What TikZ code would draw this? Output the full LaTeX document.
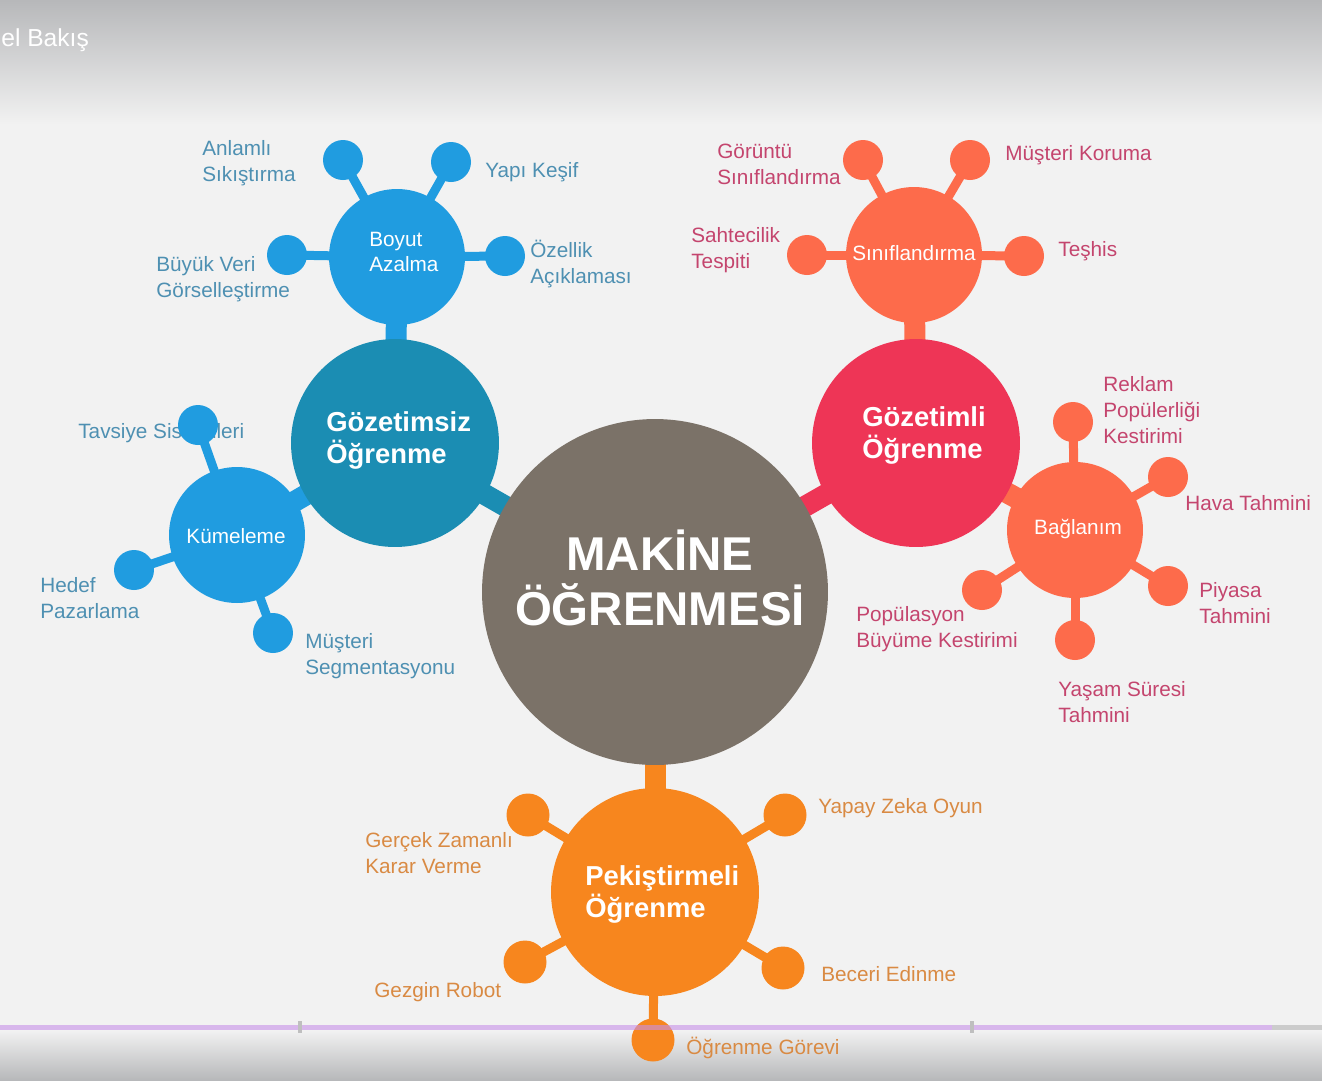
\documentclass[tikz,border=0pt]{standalone}
\usepackage{fontspec}
\setmainfont{Liberation Sans}

\pgfdeclarelayer{page}
\pgfdeclarelayer{stems}
\pgfdeclarelayer{over}
\pgfsetlayers{page,stems,main,over}

\definecolor{mainbrown}{HTML}{7B7268}
\definecolor{unsupteal}{HTML}{1B8DB3}
\definecolor{unsupblue}{HTML}{209CE0}
\definecolor{supred}{HTML}{EE3556}
\definecolor{supcoral}{HTML}{FD6B4B}
\definecolor{reinforange}{HTML}{F7861E}
\definecolor{lblblue}{HTML}{4E90B2}
\definecolor{lblpink}{HTML}{C4456E}
\definecolor{lblorange}{HTML}{D98A43}
\definecolor{pagebg}{HTML}{F2F2F2}
\definecolor{bargray}{HTML}{B7B8BA}
\definecolor{progress}{HTML}{C890E8}

\tikzset{
  bigball/.style={circle, fill=#1, minimum size=4.16cm, inner sep=0pt},
  midball/.style={circle, fill=#1, minimum size=2.72cm, inner sep=0pt},
  leaf/.style={circle, fill=#1, minimum size=0.8cm, inner sep=0pt},
  twig/.style={draw=#1, line width=0.18cm},
  limb/.style={draw=#1, line width=0.42cm},
  lbl/.style={anchor=west, inner sep=0pt, align=left, text=#1, font=\fontsize{11.8}{14.7}\selectfont},
  hubtxt/.style={anchor=west, text=white, inner sep=0pt, align=left, font=\bfseries\fontsize{15.6}{18.2}\selectfont},
  midtxt/.style={text=white, inner sep=0pt, align=left, font=\fontsize{11.8}{14.2}\selectfont},
}

\begin{document}
\begin{tikzpicture}[x=0.02cm, y=-0.02cm]
  \useasboundingbox (0,0) rectangle (1322,1080);

  % page, top and bottom bars
  \begin{pgfonlayer}{page}
    \fill[pagebg] (0,0) rectangle (1322,1080);
    \shade[top color=bargray, bottom color=pagebg] (0,0) rectangle (1322,125);
    \shade[top color=pagebg, bottom color=bargray] (0,1030) rectangle (1322,1080);
  \end{pgfonlayer}
  \node[anchor=west, inner sep=0pt, text=white, font=\fontsize{14}{16}\selectfont] (title) at (1,40) {el Bakış};

  % hubs
  \node[circle, fill=mainbrown, minimum size=6.92cm, inner sep=0pt] (ml) at (655,592) {};
  \node[bigball=unsupteal] (unsup) at (395,443) {};
  \node[bigball=supred] (sup) at (916,443) {};
  \node[bigball=reinforange] (reinf) at (655,892) {};
  \node[midball=unsupblue] (dimred) at (397,257) {};
  \node[midball=unsupblue] (clust) at (237,535) {};
  \node[midball=supcoral] (classif) at (914,255) {};
  \node[midball=supcoral] (regr) at (1075,530) {};

  \node[text=white, align=center, inner sep=0pt, font=\bfseries\fontsize{27}{31}\selectfont] (mltxt) at (660,578) {MAKİNE\\ÖĞRENMESİ};
  \node[hubtxt] (unsuptxt) at (326,440) {Gözetimsiz\\Öğrenme};
  \node[hubtxt] (suptxt) at (862,435) {Gözetimli\\Öğrenme};
  \node[hubtxt] (reinftxt) at (585,894) {Pekiştirmeli\\Öğrenme};
  \node[midtxt, anchor=west] (dimredtxt) at (369,252) {Boyut\\Azalma};
  \node[midtxt] (clusttxt) at (236,536) {Kümeleme};
  \node[midtxt] (classiftxt) at (914,253) {Sınıflandırma};
  \node[midtxt] (regrtxt) at (1078,529) {Bağlanım};

  % label under its leaf
  \node[lbl=lblblue] (l-tav) at (78,433) {Tavsiye Sistemleri};

  % leaves
  \foreach \n/\x/\y in {dr1/343/160, dr2/451/162, dr3/287/255, dr4/505/256}
    \node[leaf=unsupblue] (\n) at (\x,\y) {};
  \foreach \n/\x/\y in {cl1/198/425, cl2/134/570, cl3/273/633}
    \node[leaf=unsupblue] (\n) at (\x,\y) {};
  \foreach \n/\x/\y in {cf1/863/160, cf2/970/160, cf3/807/255, cf4/1024/256}
    \node[leaf=supcoral] (\n) at (\x,\y) {};
  \foreach \n/\x/\y in {rg1/1073/422, rg2/1168/477, rg3/1168/586, rg4/1075/640, rg5/982/590}
    \node[leaf=supcoral] (\n) at (\x,\y) {};
  \foreach \n/\x/\y in {rf1/528/815, rf2/785/815, rf3/525/962, rf4/783/968, rf5/653/1040}
    \node[leaf=reinforange, minimum size=0.86cm] (\n) at (\x,\y) {};

  % stems
  \begin{pgfonlayer}{stems}
    \draw[limb=unsupteal] (ml.center) -- (unsup.center);
    \draw[limb=supred] (ml.center) -- (sup.center);
    \draw[limb=reinforange] (ml.center) -- (reinf.center);
    \draw[limb=unsupblue] (dimred.center) -- (unsup.center);
    \draw[limb=unsupblue] (clust.center) -- (unsup.center);
    \draw[limb=supcoral] (classif.center) -- (sup.center);
    \draw[limb=supcoral] (regr.center) -- (sup.center);
    \foreach \n in {dr1,dr2,dr3,dr4}
      \draw[twig=unsupblue] (dimred.center) -- (\n.center);
    \foreach \n in {cl1,cl2,cl3}
      \draw[twig=unsupblue] (clust.center) -- (\n.center);
    \foreach \n in {cf1,cf2,cf3,cf4}
      \draw[twig=supcoral] (classif.center) -- (\n.center);
    \foreach \n in {rg1,rg2,rg3,rg4,rg5}
      \draw[twig=supcoral] (regr.center) -- (\n.center);
    \foreach \n in {rf1,rf2,rf3,rf4,rf5}
      \draw[twig=reinforange] (reinf.center) -- (\n.center);
  \end{pgfonlayer}

  % labels
  \node[lbl=lblblue] (l-anl) at (202,163) {Anlamlı\\Sıkıştırma};
  \node[lbl=lblblue] (l-yap) at (485,172) {Yapı Keşif};
  \node[lbl=lblblue] (l-buy) at (156,279) {Büyük Veri\\Görselleştirme};
  \node[lbl=lblblue] (l-oze) at (530,264) {Özellik\\Açıklaması};
  \node[lbl=lblblue] (l-hed) at (40,598) {Hedef\\Pazarlama};
  \node[lbl=lblblue] (l-seg) at (305,656) {Müşteri\\Segmentasyonu};

  \node[lbl=lblpink] (l-gor) at (717,164) {Görüntü\\Sınıflandırma};
  \node[lbl=lblpink] (l-kor) at (1005,155) {Müşteri Koruma};
  \node[lbl=lblpink] (l-sah) at (691,250) {Sahtecilik\\Tespiti};
  \node[lbl=lblpink] (l-tes) at (1058,251) {Teşhis};
  \node[lbl=lblpink] (l-rek) at (1103,410) {Reklam\\Popülerliği\\Kestirimi};
  \node[lbl=lblpink] (l-hav) at (1185,503) {Hava Tahmini};
  \node[lbl=lblpink] (l-piy) at (1199,603) {Piyasa\\Tahmini};
  \node[lbl=lblpink] (l-pop) at (856,629) {Popülasyon\\Büyüme Kestirimi};
  \node[lbl=lblpink] (l-yas) at (1058,702) {Yaşam Süresi\\Tahmini};

  \node[lbl=lblorange] (l-oyn) at (818,808) {Yapay Zeka Oyun};
  \node[lbl=lblorange] (l-ger) at (365,853) {Gerçek Zamanlı\\Karar Verme};
  \node[lbl=lblorange] (l-gez) at (374,992) {Gezgin Robot};
  \node[lbl=lblorange] (l-bec) at (821,974) {Beceri Edinme};
  \node[lbl=lblorange] (l-gov) at (686,1048) {Öğrenme Görevi};

  % progress line of the player
  \begin{pgfonlayer}{over}
    \fill[progress, opacity=0.6] (0,1025) rectangle (1272,1030);
    \fill[black!20] (1272,1025) rectangle (1322,1030);
    \fill[black!25] (298,1021) rectangle (302,1033);
    \fill[black!25] (970,1021) rectangle (974,1033);
  \end{pgfonlayer}
\end{tikzpicture}
\end{document}
